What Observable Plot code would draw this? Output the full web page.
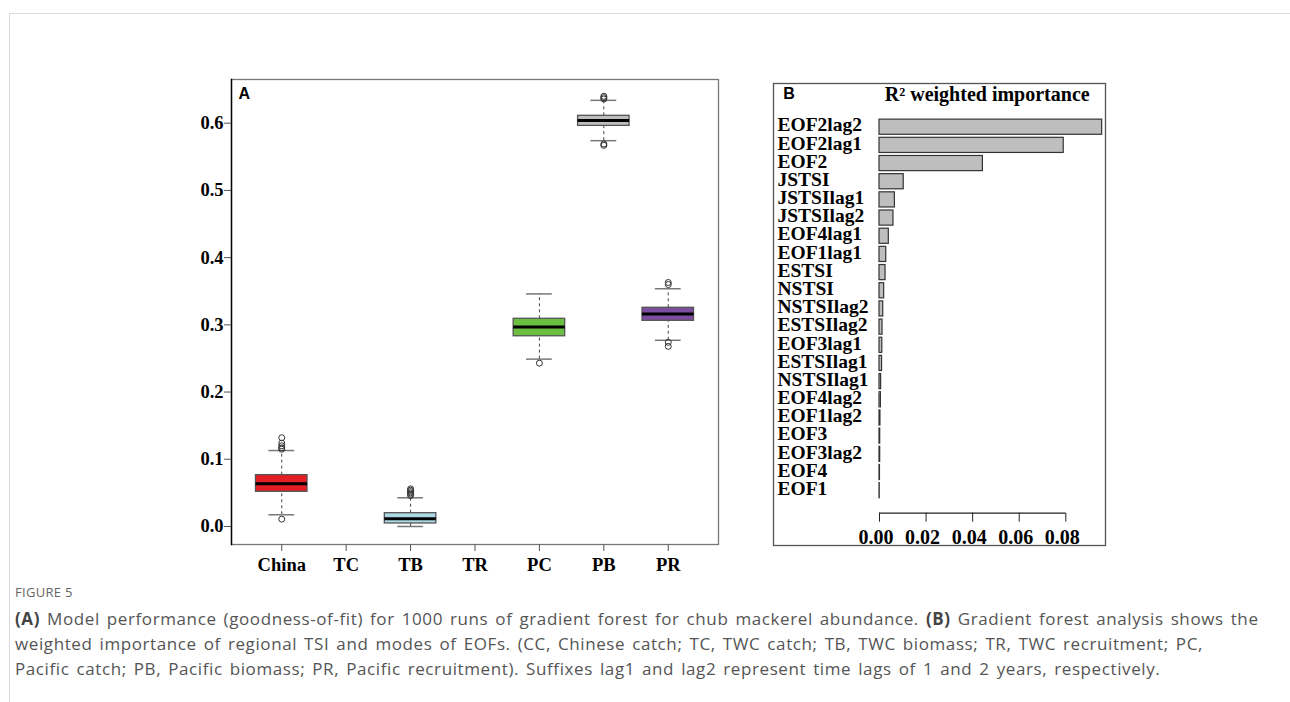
<!DOCTYPE html>
<html>
<head>
<meta charset="utf-8">
<script src="https://cdn.jsdelivr.net/npm/d3@7"></script>
<script src="https://cdn.jsdelivr.net/npm/@observablehq/plot@0.6"></script>
<style>
html, body { margin: 0; padding: 0; background: #fff; }
body { width: 1290px; height: 702px; overflow: hidden; position: relative; }
#card { position: absolute; left: 9px; top: 13px; right: 0; bottom: 0; border-top: 1px solid #dcdcdc; border-left: 1px solid #dcdcdc; }
#panelA { position: absolute; left: 170px; top: 70px; }
#panelB { position: absolute; left: 765px; top: 75px; }
#figlabel { position: absolute; left: 15px; top: 583px; font-family: "Open Sans", sans-serif; font-size: 13px; color: #666; letter-spacing: 0.3px; }
#caption { position: absolute; left: 15px; top: 606px; font-family: "Open Sans", sans-serif; font-size: 17px; letter-spacing: 0.6px; word-spacing: 2px; line-height: 25px; color: #555; white-space: nowrap; }
#caption b { color: #444; }
</style>
</head>
<body>
<div id="card"></div>
<div id="panelA"></div>
<div id="panelB"></div>
<div id="figlabel">FIGURE 5</div>
<div id="caption"><b>(A)</b> Model performance (goodness-of-fit) for 1000 runs of gradient forest for chub mackerel abundance. <b>(B)</b> Gradient forest analysis shows the<br>weighted importance of regional TSI and modes of EOFs. (CC, Chinese catch; TC, TWC catch; TB, TWC biomass; TR, TWC recruitment; PC,<br>Pacific catch; PB, Pacific biomass; PR, Pacific recruitment). Suffixes lag1 and lag2 represent time lags of 1 and 2 years, respectively.</div>
<script>
// ---------- Panel A data ----------
const categories = ["China", "TC", "TB", "TR", "PC", "PB", "PR"];
const boxCategories = ["China", "TB", "PC", "PB", "PR"];
const q1 = [0.0516, 0.0045, 0.283, 0.596, 0.306];
const median = [0.0635, 0.0114, 0.2966, 0.604, 0.316];
const q3 = [0.0764, 0.0198, 0.309, 0.611, 0.3254];
const whiskerLow = [0.0174, 0.0, 0.249, 0.574, 0.277];
const whiskerHigh = [0.113, 0.0427, 0.346, 0.634, 0.3537];
const outliers = [
  [0.0109, 0.115, 0.117, 0.120, 0.124, 0.132],
  [0.046, 0.048, 0.050, 0.052, 0.054, 0.056],
  [0.243],
  [0.567, 0.569, 0.636, 0.638, 0.640],
  [0.268, 0.274, 0.360, 0.363]
];
const boxColors = ["#e41e24", "#add8e6", "#6abf40", "#bebebe", "#7d4e9f"];
const yTicksA = [0, 0.1, 0.2, 0.3, 0.4, 0.5, 0.6];

// ---------- Panel B data ----------
const variables = ["EOF2lag2", "EOF2lag1", "EOF2", "JSTSI", "JSTSIlag1", "JSTSIlag2", "EOF4lag1", "EOF1lag1",
  "ESTSI", "NSTSI", "NSTSIlag2", "ESTSIlag2", "EOF3lag1", "ESTSIlag1", "NSTSIlag1", "EOF4lag2", "EOF1lag2",
  "EOF3", "EOF3lag2", "EOF4", "EOF1"];
const importance = [0.0956, 0.0791, 0.0444, 0.0104, 0.0066, 0.0060, 0.0040, 0.0029,
  0.0026, 0.0020, 0.0016, 0.0013, 0.0012, 0.0011, 0.0007, 0.0006, 0.0004,
  0.0003, 0.0003, 0.0002, 0.0001];
const importanceTicks = [0, 0.02, 0.04, 0.06, 0.08];

// ---------- Panel A ----------
const boxes = boxCategories.map((c, k) => ({
  cat: c, pos: categories.indexOf(c) + 1,
  q1: q1[k], med: median[k], q3: q3[k], lo: whiskerLow[k], hi: whiskerHigh[k]
}));
const outlierPoints = boxes.flatMap((b, k) => outliers[k].map(v => ({pos: b.pos, v})));

const serif = "'Liberation Serif', 'Times New Roman', serif";
const sans = "'Liberation Sans', Arial, sans-serif";

const chartA = Plot.plot({
  width: 560, height: 520,
  marginLeft: 61, marginTop: 9, marginRight: 12, marginBottom: 46,
  x: {domain: [0.22, 7.78], label: null, axis: null},
  y: {domain: [-0.0268, 0.665], label: null, axis: null},
  color: {domain: boxCategories, range: boxColors},
  style: {fontFamily: serif, fontSize: "18.5px", fontWeight: "bold", color: "#000", background: "transparent"},
  marks: [
    Plot.frame({stroke: "#777", strokeWidth: 1.3}),
    Plot.frame({anchor: "left", stroke: "#000", strokeWidth: 1.4}),
    Plot.axisY({ticks: yTicksA, tickFormat: d3.format(".1f"), tickSize: 7, tickPadding: 1, stroke: "#555"}),
    Plot.axisX({ticks: d3.range(1, categories.length + 1), tickFormat: i => categories[i - 1], tickSize: 7, tickPadding: 6, stroke: "#555"}),
    Plot.ruleX(boxes, {x: "pos", y1: "q3", y2: "hi", stroke: "#444", strokeDasharray: "3,3"}),
    Plot.ruleX(boxes, {x: "pos", y1: "lo", y2: "q1", stroke: "#444", strokeDasharray: "3,3"}),
    Plot.ruleY(boxes, {y: "hi", x1: d => d.pos - 0.2, x2: d => d.pos + 0.2, stroke: "#777", strokeWidth: 1.5}),
    Plot.ruleY(boxes, {y: "lo", x1: d => d.pos - 0.2, x2: d => d.pos + 0.2, stroke: "#777", strokeWidth: 1.5}),
    Plot.rect(boxes, {x1: d => d.pos - 0.4, x2: d => d.pos + 0.4, y1: "q1", y2: "q3", fill: "cat", stroke: "#555", strokeWidth: 1.3}),
    Plot.ruleY(boxes, {y: "med", x1: d => d.pos - 0.4, x2: d => d.pos + 0.4, stroke: "#000", strokeWidth: 3}),
    Plot.dot(outlierPoints, {x: "pos", y: "v", r: 3, stroke: "#333", strokeWidth: 1, fill: "none"}),
    Plot.text(["A"], {frameAnchor: "top-left", textAnchor: "start", lineAnchor: "top", dx: 7, dy: 8, fontFamily: sans, fontSize: 16, fontWeight: "bold"})
  ]
});
document.getElementById("panelA").appendChild(chartA);

// ---------- Panel B ----------
const bars = variables.map((name, i) => ({name, i, v: importance[i]}));
const yDomainB = [21.24, -2.405];

const chartB = Plot.plot({
  width: 350, height: 480,
  marginLeft: 8, marginTop: 8, marginRight: 10, marginBottom: 42.3,
  x: {domain: [-0.04551, 0.09704], label: null, axis: null},
  y: {domain: yDomainB, label: null, axis: null},
  style: {fontFamily: serif, fontSize: "20px", fontWeight: "bold", color: "#000", background: "transparent"},
  marks: [
    Plot.frame({stroke: "#555", strokeWidth: 1.3, insetBottom: -32.3}),
    Plot.axisY({ticks: d3.range(variables.length), tickFormat: i => variables[i], tickSize: 0, tickPadding: 0, dx: 4, dy: -2, textAnchor: "start", fontSize: 19.5}),
    Plot.rect(bars, {x1: () => 0, x2: "v", y1: d => d.i - 0.4167, y2: d => d.i + 0.4167, fill: "#bebebe", stroke: "#333", strokeWidth: 1.2}),
    Plot.ruleY([yDomainB[0]], {x1: importanceTicks[0], x2: importanceTicks[importanceTicks.length - 1], stroke: "#222", strokeWidth: 1.2}),
    Plot.axisX({ticks: importanceTicks, tickSize: 9, tickFormat: () => "", stroke: "#222"}),
    Plot.axisX({ticks: importanceTicks, tickSize: 0, tickPadding: 16.4, dx: -3.5, tickFormat: d3.format(".2f")}),
    Plot.text(["B"], {frameAnchor: "top-left", textAnchor: "start", lineAnchor: "top", dx: 9.7, dy: 4, fontFamily: sans, fontSize: 16, fontWeight: "bold"}),
    Plot.text(["R² weighted importance"], {frameAnchor: "top", textAnchor: "middle", lineAnchor: "top", dx: 47.7, dy: 3, fontSize: 20, fontWeight: "bold"})
  ]
});
document.getElementById("panelB").appendChild(chartB);
</script>
</body>
</html>
